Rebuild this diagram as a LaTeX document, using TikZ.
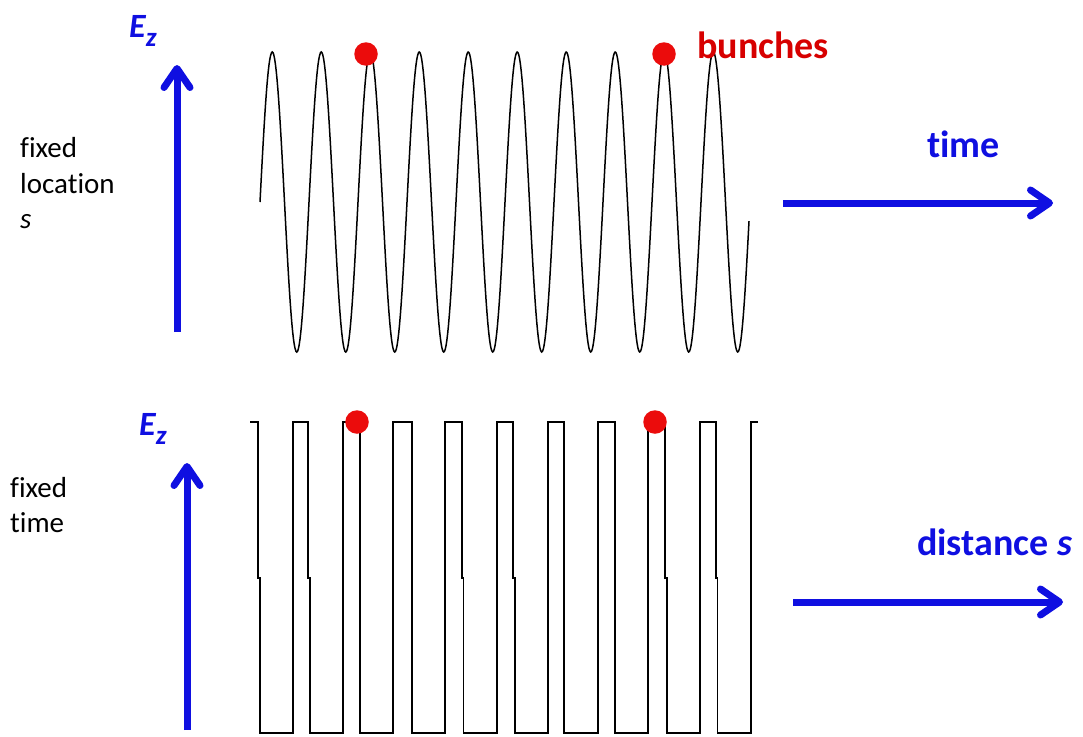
\documentclass[tikz,border=0pt]{standalone}
\usepackage{fontspec}
\setmainfont{Carlito}[Ligatures=NoCommon]
\usetikzlibrary{arrows.meta}
\definecolor{ablue}{RGB}{15,15,225}
\definecolor{dotred}{RGB}{235,12,12}
\definecolor{txtred}{RGB}{215,0,0}
\tikzset{
  axisarrow/.style={ablue, line width=7pt, -{Straight Barb[length=19pt,width=26pt,round]}},
  wave/.style={black, line width=1.5pt, line join=miter},
  bunch/.style={circle, fill=dotred, inner sep=0pt, minimum size=23.5pt},
  plain/.style={anchor=base west, inner sep=0pt, font=\fontsize{29}{35}\selectfont},
  bigblue/.style={anchor=base west, inner sep=0pt, text=ablue, font=\fontsize{38}{46}\selectfont\bfseries},
  ezlabel/.style={anchor=base west, inner sep=0pt, text=ablue, font=\fontsize{34}{40}\selectfont\bfseries\itshape}
}
\begin{document}
\begin{tikzpicture}[x=1pt,y=-1pt]
\useasboundingbox (0,0) rectangle (1083,736);
% ---------- top panel ----------
\coordinate (tv0) at (177,332);
\coordinate (tv1) at (177,65);
\draw[axisarrow] (tv0) -- (tv1);
\coordinate (th0) at (783,203);
\coordinate (th1) at (1053,203);
\draw[axisarrow] (th0) -- (th1);
\draw[wave] plot[domain=260:749, samples=600] (\x, {202 - 150*sin((360/49)*(\x-260))});
\node[bunch] (b1) at (366,54) {};
\node[bunch] (b2) at (664,54) {};
\node[anchor=base west, inner sep=0pt, text=txtred, font=\fontsize{38}{46}\selectfont\bfseries] (lbunch) at (697,58) {bunches};
\node[bigblue] (ltime) at (927,157) {time};
\node[ezlabel] (ez1) at (129,37) {E\raisebox{-9pt}{\fontsize{27}{27}\selectfont z}};
\node[plain] (lf1) at (20,157) {fixed};
\node[plain] (lf2) at (20,193) {location};
\node[plain] (lf3) at (20,228) {\itshape s};
% ---------- bottom panel ----------
\coordinate (bv0) at (187,730);
\coordinate (bv1) at (187,463);
\draw[axisarrow] (bv0) -- (bv1);
\coordinate (bh0) at (793,602);
\coordinate (bh1) at (1063,602);
\draw[axisarrow] (bh0) -- (bh1);
\draw[wave] (250,422) -- (258,422) -- (258,578) -- (260,578) -- (260,733) -- (293,733) -- (293,422)
  -- (308,422) -- (308,578) -- (310,578) -- (310,733) -- (343,733) -- (343,422)
  -- (360,422) -- (360,733) -- (393,733) -- (393,422)
  -- (412,422) -- (412,733) -- (445,733) -- (445,422)
  -- (462,422) -- (462,578) -- (463.5,578) -- (463.5,733) -- (497,733) -- (497,422)
  -- (513,422) -- (513,578) -- (515,578) -- (515,733) -- (548,733) -- (548,422)
  -- (564,422) -- (564,733) -- (598,733) -- (598,422)
  -- (615,422) -- (615,733) -- (648,733) -- (648,422)
  -- (665,422) -- (665,578) -- (667,578) -- (667,733) -- (700,733) -- (700,422)
  -- (716,422) -- (716,578) -- (717.5,578) -- (717.5,733) -- (751,733) -- (751,422) -- (758,422);
\node[bunch] (b3) at (357,422) {};
\node[bunch] (b4) at (655,422) {};
\node[bigblue] (ldist) at (917,555) {distance \textit{s}};
\node[ezlabel] (ez2) at (139,435) {E\raisebox{-9pt}{\fontsize{27}{27}\selectfont z}};
\node[plain] (lf4) at (10,497) {fixed};
\node[plain] (lf5) at (10,532) {time};
\end{tikzpicture}
\end{document}
